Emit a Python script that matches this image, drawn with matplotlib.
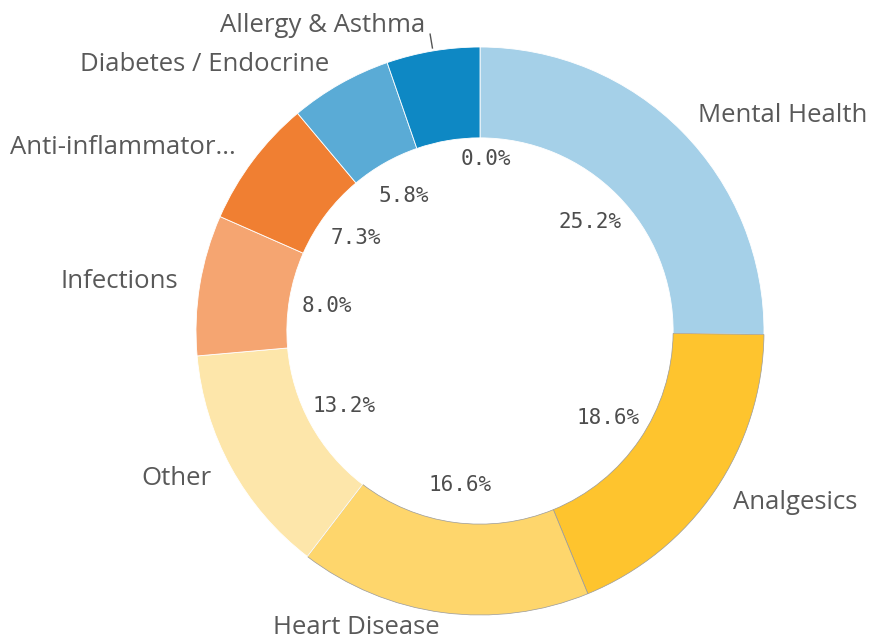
import numpy as np
import matplotlib
matplotlib.use("Agg")
import matplotlib.pyplot as plt

categories = ["Mental Health", "Analgesics", "Heart Disease", "Other", "Infections",
              "Anti-inflammator...", "Diabetes / Endocrine", "Allergy & Asthma"]
values = [25.2, 18.6, 16.6, 13.2, 8.0, 7.3, 5.8, 5.3]
pct_labels = ["25.2%", "18.6%", "16.6%", "13.2%", "8.0%", "7.3%", "5.8%", "0.0%"]
colors = ["#a5d0e8", "#fec42e", "#fed66c", "#fde6aa", "#f5a571", "#f07f32",
          "#5aabd6", "#0e88c4"]

W, H = 871, 644
fig = plt.figure(figsize=(W / 100, H / 100), dpi=100)
ax = fig.add_axes([0, 0, 1, 1])

cx, cy = 480, H - 331
R = 284
width = 0.32

wedges, _ = ax.pie(values, colors=colors, startangle=90, counterclock=False,
                   center=(cx, cy), radius=R,
                   wedgeprops=dict(width=R * width, edgecolor="white", linewidth=0.6))
for w in wedges[1:3]:
    w.set_edgecolor("#9a9a9a")
    w.set_linewidth(0.5)

ax.set_xlim(0, W)
ax.set_ylim(0, H)
ax.set_aspect("equal")
ax.axis("off")

total = sum(values)
cum = 0
text_col = "#595959"
n = len(values)
for i, (cat, v, pl) in enumerate(zip(categories, values, pct_labels)):
    a0 = cum / total * 360
    cum += v
    a1 = cum / total * 360
    mid = (a0 + a1) / 2
    is_last = i == n - 1
    ang_pct = a1 + 2 if is_last else mid
    th = np.deg2rad(90 - ang_pct)
    rp = 172 if is_last else 155
    ax.text(cx + rp * np.cos(th), cy + rp * np.sin(th), pl, ha="center", va="center",
            fontsize=15, family="DejaVu Sans Mono", color="#4d4d4d")
    th = np.deg2rad(90 - mid)
    if is_last:
        # small leader line for the label above the top slice
        r1, r2 = R + 3, R + 17
        x1, y1 = cx + r1 * np.cos(th), cy + r1 * np.sin(th)
        x2, y2 = cx + r2 * np.cos(th), cy + r2 * np.sin(th)
        ax.plot([x1, x2], [y1, y2], color="#555555", lw=1)
        ax.text(x2 - 5, y2 + 2, cat, ha="right", va="baseline", fontsize=18.5,
                family="Open Sans", color=text_col)
        continue
    ro = R + 22
    x = cx + ro * np.cos(th)
    y = max(cy + ro * np.sin(th), 16)
    ha = "left" if np.cos(th) > 0.05 else ("right" if np.cos(th) < -0.05 else "center")
    ax.text(x, y, cat, ha=ha, va="center", fontsize=18.5, family="Open Sans", color=text_col)

fig.savefig("out.png", dpi=100)
